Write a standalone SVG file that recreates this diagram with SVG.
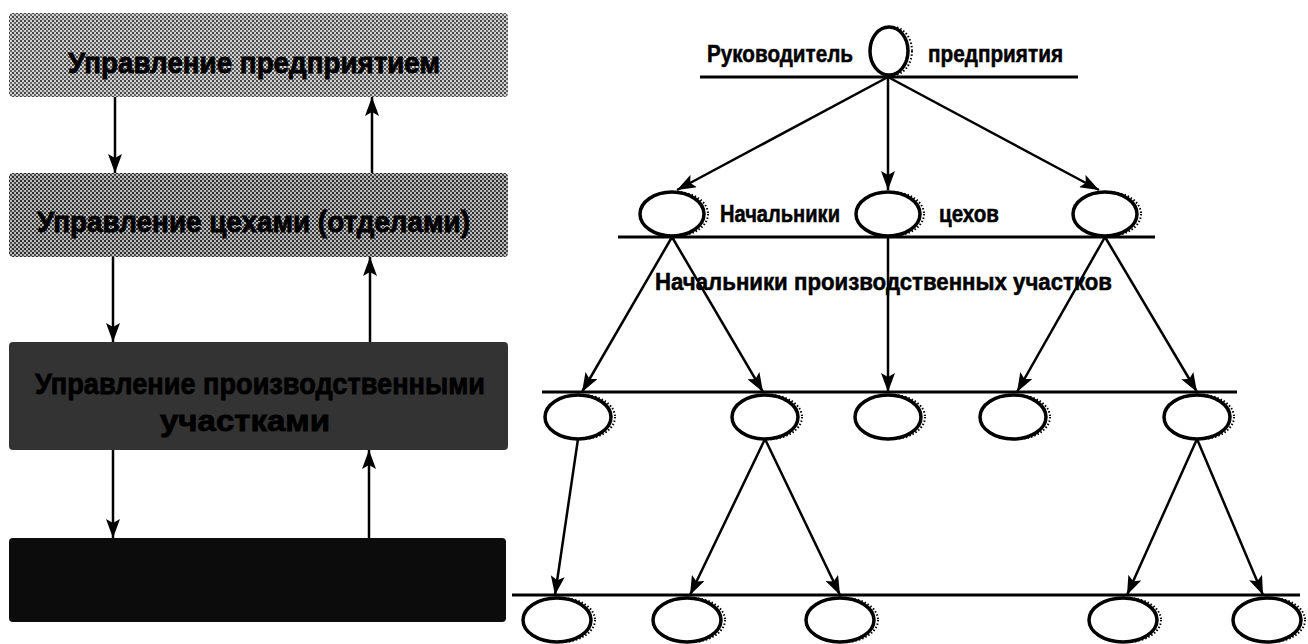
<svg xmlns="http://www.w3.org/2000/svg" width="1308" height="644" viewBox="0 0 1308 644">
<style>
.box{stroke:none}
.bt{font-family:"Liberation Sans","DejaVu Sans",sans-serif;font-weight:bold;fill:#000;stroke:#000;stroke-width:0.8}
.lbl{font-family:"Liberation Sans","DejaVu Sans",sans-serif;font-weight:bold;font-size:23px;fill:#000;stroke:#000;stroke-width:0.5}
.node{fill:#fff;stroke:#000;stroke-width:3.5}
.sh{fill:none;stroke:#000;stroke-width:2;stroke-dasharray:1.5 2}
.ln{stroke:#000;stroke-width:3;fill:none}
.ar{stroke:#000;stroke-width:2.5;fill:none;marker-end:url(#ah)}
</style>
<defs>
<marker id="ah" markerUnits="userSpaceOnUse" markerWidth="20" markerHeight="14" refX="19" refY="7" orient="auto">
<path d="M0,0 L19,7 L0,14 L4,7 z" fill="#000"/>
</marker>
<pattern id="dots1" width="4" height="4" patternUnits="userSpaceOnUse">
<rect width="4" height="4" fill="#d0d0d0"/><rect width="2" height="2" fill="#444"/><rect x="2" y="2" width="2" height="2" fill="#666"/>
</pattern>
<pattern id="dots2" width="4" height="4" patternUnits="userSpaceOnUse">
<rect width="4" height="4" fill="#bbbbbb"/><rect width="2" height="2" fill="#2a2a2a"/><rect x="2" y="2" width="2" height="2" fill="#4a4a4a"/>
</pattern>
</defs>
<rect width="1308" height="644" fill="#fff"/>

<g id="box1"><rect class="box" x="9" y="13" width="499" height="84" rx="4" fill="url(#dots1)"/>
<text class="bt" x="68" y="73" font-size="30" textLength="372" lengthAdjust="spacingAndGlyphs">Управление предприятием</text></g>
<g id="box2"><rect class="box" x="9" y="173" width="499" height="84" rx="4" fill="url(#dots2)"/>
<text class="bt" x="37" y="232" font-size="30" textLength="433" lengthAdjust="spacingAndGlyphs">Управление цехами (отделами)</text></g>
<g id="box3"><rect class="box" x="9" y="342" width="499" height="108" rx="4" fill="#333"/>
<text class="bt" x="35" y="394" font-size="30" textLength="450" lengthAdjust="spacingAndGlyphs" fill="#0a0a0a" stroke="#0a0a0a">Управление производственными</text>
<text class="bt" x="160" y="431" font-size="30" textLength="170" lengthAdjust="spacingAndGlyphs" fill="#0a0a0a" stroke="#0a0a0a">участками</text></g>
<g id="box4"><rect class="box" x="9" y="538" width="497" height="84" rx="4" fill="#0c0c0c"/></g>

<g id="connectors">
<line class="ar" x1="115" y1="97" x2="115" y2="173"/>
<line class="ar" x1="372" y1="173" x2="372" y2="97"/>
<line class="ar" x1="113" y1="257" x2="113" y2="342"/>
<line class="ar" x1="370" y1="342" x2="370" y2="257"/>
<line class="ar" x1="113" y1="450" x2="113" y2="538"/>
<line class="ar" x1="369" y1="538" x2="369" y2="450"/>

<line class="ln" x1="700" y1="77" x2="1078" y2="77"/>
<line class="ln" x1="618" y1="237" x2="1155" y2="237"/>
<line class="ln" x1="542" y1="392" x2="1237" y2="392"/>
<line class="ln" x1="512" y1="595" x2="1300" y2="595"/>

<line class="ar" x1="888" y1="77" x2="677" y2="190"/>
<line class="ar" x1="888" y1="77" x2="888" y2="190"/>
<line class="ar" x1="888" y1="77" x2="1099" y2="190"/>

<line class="ar" x1="672" y1="237" x2="582" y2="392"/>
<line class="ar" x1="672" y1="237" x2="763" y2="392"/>
<line class="ar" x1="888" y1="237" x2="888" y2="392"/>
<line class="ar" x1="1105" y1="237" x2="1017" y2="392"/>
<line class="ar" x1="1105" y1="237" x2="1197" y2="392"/>

<line class="ar" x1="578" y1="439" x2="555" y2="595"/>
<line class="ar" x1="765" y1="439" x2="690" y2="595"/>
<line class="ar" x1="765" y1="439" x2="840" y2="595"/>
<line class="ar" x1="1197" y1="439" x2="1127" y2="595"/>
<line class="ar" x1="1197" y1="439" x2="1263" y2="595"/>
</g>

<g id="top"><ellipse class="sh" cx="893" cy="51" rx="19" ry="24"/><ellipse class="node" cx="889" cy="51" rx="19" ry="24"/></g>
<text class="lbl" x="707" y="62" textLength="146" lengthAdjust="spacingAndGlyphs">Руководитель</text>
<text class="lbl" x="928" y="62" textLength="135" lengthAdjust="spacingAndGlyphs">предприятия</text>

<g id="c1"><ellipse class="sh" cx="676" cy="214" rx="32" ry="22"/><ellipse class="node" cx="672" cy="214" rx="32" ry="22"/></g>
<g id="c2"><ellipse class="sh" cx="892" cy="214" rx="32" ry="22"/><ellipse class="node" cx="888" cy="214" rx="32" ry="22"/></g>
<g id="c3"><ellipse class="sh" cx="1109" cy="214" rx="32" ry="22"/><ellipse class="node" cx="1105" cy="214" rx="32" ry="22"/></g>
<text class="lbl" x="720" y="222" textLength="120" lengthAdjust="spacingAndGlyphs">Начальники</text>
<text class="lbl" x="939" y="222" textLength="60" lengthAdjust="spacingAndGlyphs">цехов</text>
<text class="lbl" x="655" y="290" textLength="457" lengthAdjust="spacingAndGlyphs">Начальники производственных участков</text>

<g id="u1"><ellipse class="sh" cx="582" cy="417" rx="33" ry="22"/><ellipse class="node" cx="578" cy="417" rx="33" ry="22"/></g>
<g id="u2"><ellipse class="sh" cx="769" cy="417" rx="33" ry="22"/><ellipse class="node" cx="765" cy="417" rx="33" ry="22"/></g>
<g id="u3"><ellipse class="sh" cx="892" cy="417" rx="33" ry="22"/><ellipse class="node" cx="888" cy="417" rx="33" ry="22"/></g>
<g id="u4"><ellipse class="sh" cx="1017" cy="417" rx="33" ry="22"/><ellipse class="node" cx="1013" cy="417" rx="33" ry="22"/></g>
<g id="u5"><ellipse class="sh" cx="1201" cy="417" rx="33" ry="22"/><ellipse class="node" cx="1197" cy="417" rx="33" ry="22"/></g>

<g id="w1"><ellipse class="sh" cx="561" cy="620" rx="34" ry="22"/><ellipse class="node" cx="557" cy="620" rx="34" ry="22"/></g>
<g id="w2"><ellipse class="sh" cx="691" cy="620" rx="34" ry="22"/><ellipse class="node" cx="687" cy="620" rx="34" ry="22"/></g>
<g id="w3"><ellipse class="sh" cx="844" cy="620" rx="34" ry="22"/><ellipse class="node" cx="840" cy="620" rx="34" ry="22"/></g>
<g id="w4"><ellipse class="sh" cx="1127" cy="620" rx="34" ry="22"/><ellipse class="node" cx="1123" cy="620" rx="34" ry="22"/></g>
<g id="w5"><ellipse class="sh" cx="1271" cy="620" rx="34" ry="22"/><ellipse class="node" cx="1267" cy="620" rx="34" ry="22"/></g>
</svg>
